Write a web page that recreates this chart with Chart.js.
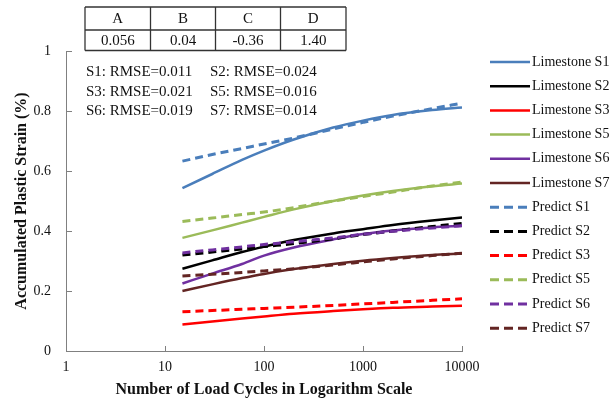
<!DOCTYPE html>
<html><head><meta charset="utf-8">
<script src="https://cdn.jsdelivr.net/npm/chart.js@4.4.0/dist/chart.umd.min.js"></script>
<style>html,body{margin:0;padding:0;background:#fff}#wrap{width:616px;height:405px;position:relative}</style>
</head><body><div id="wrap"><canvas id="c" width="616" height="405"></canvas></div>
<script>
// ---- data ----
const cycles = [15, 30, 60, 100, 200, 500, 1000, 2000, 5000, 10000];
const limestoneS1 = [0.543, 0.590, 0.637, 0.668, 0.705, 0.745, 0.768, 0.787, 0.803, 0.812];
const limestoneS2 = [0.274, 0.302, 0.330, 0.348, 0.370, 0.392, 0.406, 0.420, 0.435, 0.445];
const limestoneS3 = [0.088, 0.098, 0.108, 0.115, 0.124, 0.133, 0.139, 0.144, 0.148, 0.151];
const limestoneS5 = [0.377, 0.402, 0.428, 0.447, 0.472, 0.500, 0.518, 0.533, 0.549, 0.558];
const limestoneS6 = [0.225, 0.258, 0.290, 0.318, 0.345, 0.372, 0.390, 0.402, 0.412, 0.417];
const limestoneS7 = [0.200, 0.222, 0.243, 0.257, 0.273, 0.290, 0.301, 0.310, 0.320, 0.325];
const predictS1 = [0.633, 0.655, 0.675, 0.690, 0.710, 0.740, 0.762, 0.783, 0.808, 0.826];
const predictS2 = [0.320, 0.330, 0.340, 0.348, 0.358, 0.374, 0.388, 0.400, 0.415, 0.425];
const predictS3 = [0.131, 0.135, 0.139, 0.142, 0.146, 0.152, 0.157, 0.162, 0.169, 0.174];
const predictS5 = [0.432, 0.443, 0.455, 0.463, 0.478, 0.500, 0.515, 0.530, 0.550, 0.563];
const predictS6 = [0.327, 0.337, 0.347, 0.355, 0.364, 0.377, 0.389, 0.399, 0.410, 0.418];
const predictS7 = [0.250, 0.256, 0.262, 0.267, 0.274, 0.287, 0.297, 0.307, 0.318, 0.326];
const xTickValues = [1, 10, 100, 1000, 10000];
const tableHeaders = ['A', 'B', 'C', 'D'];
const tableValues = ['0.056', '0.04', '-0.36', '1.40'];
const rmseLines = [
  ['S1: RMSE=0.011', 'S2: RMSE=0.024'],
  ['S3: RMSE=0.021', 'S5: RMSE=0.016'],
  ['S6: RMSE=0.019', 'S7: RMSE=0.014']
];
const xTitle = 'Number of Load Cycles in Logarithm Scale';
const yTitle = 'Accumulated Plastic Strain (%)';

const SERIF = '"Liberation Serif", "Times New Roman", serif';
const colors = {S1:'#4A7EBB', S2:'#000000', S3:'#FF0000', S5:'#9BBB59', S6:'#7030A0', S7:'#632523'};

function pts(arr){ return cycles.map((x,i)=>({x:x, y:arr[i]})); }
function solid(label, arr, c){ return {label, data: pts(arr), borderColor:c, backgroundColor:c, borderWidth:2.5, pointRadius:0, cubicInterpolationMode:'monotone', order:2}; }
function dashed(label, arr, c, ord){ return {label, data: pts(arr), borderColor:c, backgroundColor:c, borderWidth:3, borderDash:[8,5], pointRadius:0, cubicInterpolationMode:'monotone', order:ord}; }

const datasets = [
  solid('Limestone S1', limestoneS1, colors.S1),
  solid('Limestone S2', limestoneS2, colors.S2),
  solid('Limestone S3', limestoneS3, colors.S3),
  solid('Limestone S5', limestoneS5, colors.S5),
  solid('Limestone S6', limestoneS6, colors.S6),
  solid('Limestone S7', limestoneS7, colors.S7),
  dashed('Predict S1', predictS1, colors.S1, 0),
  dashed('Predict S2', predictS2, colors.S2, 1),
  dashed('Predict S3', predictS3, colors.S3, 0),
  dashed('Predict S5', predictS5, colors.S5, 0),
  dashed('Predict S6', predictS6, colors.S6, 0),
  dashed('Predict S7', predictS7, colors.S7, 0)
];

const extras = {
  id: 'extras',
  afterDraw(chart){
    const ctx = chart.ctx;
    const xs = chart.scales.x, ys = chart.scales.y;
    const ca = chart.chartArea;
    ctx.save();
    // inward ticks
    ctx.strokeStyle = '#808080'; ctx.lineWidth = 1; ctx.setLineDash([]);
    xs.ticks.forEach(t=>{ const px = Math.round(xs.getPixelForValue(t.value))+0.5; ctx.beginPath(); ctx.moveTo(px, ca.bottom); ctx.lineTo(px, ca.bottom-5); ctx.stroke(); });
    ys.ticks.forEach(t=>{ const py = Math.round(ys.getPixelForValue(t.value))+0.5; ctx.beginPath(); ctx.moveTo(ca.left, py); ctx.lineTo(ca.left+6, py); ctx.stroke(); });
    // table
    const colX = [85, 150.5, 215.5, 280.5, 346];
    const rowY = [7, 30, 50.5];
    ctx.strokeStyle = '#333'; ctx.lineWidth = 1.3;
    rowY.forEach(y=>{ ctx.beginPath(); ctx.moveTo(colX[0], y); ctx.lineTo(colX[4], y); ctx.stroke(); });
    colX.forEach(x=>{ ctx.beginPath(); ctx.moveTo(x, rowY[0]); ctx.lineTo(x, rowY[2]); ctx.stroke(); });
    ctx.fillStyle = '#111'; ctx.font = '15px ' + SERIF; ctx.textAlign = 'center'; ctx.textBaseline = 'middle';
    tableHeaders.forEach((h,i)=> ctx.fillText(h, (colX[i]+colX[i+1])/2, 19));
    tableValues.forEach((v,i)=> ctx.fillText(v, (colX[i]+colX[i+1])/2, 41));
    // RMSE text
    ctx.textAlign = 'left'; ctx.font = '15px ' + SERIF;
    const ry = [72, 92, 111];
    rmseLines.forEach((row,i)=>{ ctx.fillText(row[0], 86, ry[i]); ctx.fillText(row[1], 210, ry[i]); });
    // legend
    ctx.font = '14px ' + SERIF;
    chart.data.datasets.forEach((ds,i)=>{
      const y = 62 + i*24.2;
      ctx.strokeStyle = ds.borderColor; ctx.lineWidth = ds.borderWidth;
      ctx.setLineDash(ds.borderDash ? [9,5] : []);
      ctx.beginPath(); ctx.moveTo(490, y); ctx.lineTo(530, y); ctx.stroke();
      ctx.setLineDash([]);
      ctx.fillStyle = '#111'; ctx.textAlign = 'left'; ctx.textBaseline = 'middle';
      ctx.fillText(ds.label, 532, y);
    });
    ctx.restore();
  }
};

new Chart(document.getElementById('c'), {
  type: 'line',
  data: { datasets },
  options: {
    responsive: false, animation: false, devicePixelRatio: 1,
    layout: { padding: { left: 0, right: 154, top: 51, bottom: 0 } },
    plugins: { legend: { display: false }, tooltip: { enabled: false } },
    scales: {
      x: {
        type: 'logarithmic', min: 1, max: 10000,
        afterBuildTicks: s => { s.ticks = xTickValues.map(v => ({ value: v })); },
        afterFit: s => { s.height = 54; },
        grid: { display: false, drawTicks: false },
        border: { display: true, color: '#808080', width: 1 },
        ticks: { autoSkip: false, maxRotation: 0, padding: 8, color: '#111', font: { family: SERIF, size: 14 }, callback: v => String(v) },
        title: { display: true, text: xTitle, color: '#111', font: { family: SERIF, size: 16, weight: 'bold' }, padding: { top: 0, bottom: 6 } }
      },
      y: {
        type: 'linear', min: 0, max: 1,
        afterFit: s => { s.width = 66; },
        grid: { display: false, drawTicks: false },
        border: { display: true, color: '#808080', width: 1 },
        ticks: { stepSize: 0.2, padding: 15, color: '#111', font: { family: SERIF, size: 14 }, callback: v => String(Math.round(v*10)/10) },
        title: { display: true, text: yTitle, color: '#111', font: { family: SERIF, size: 16, weight: 'bold' }, padding: { top: 12, bottom: 0 } }
      }
    }
  },
  plugins: [extras]
});
</script></body></html>
